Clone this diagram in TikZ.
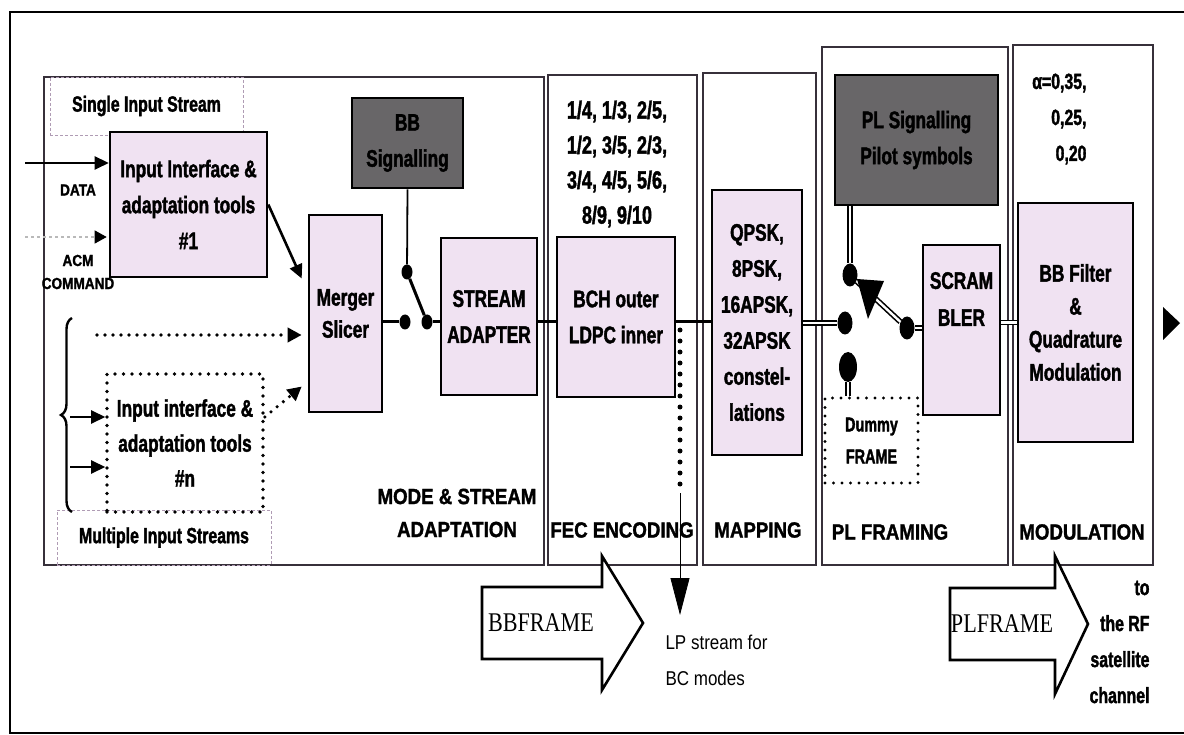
\documentclass[tikz,border=0pt]{standalone}
\usepackage{fontspec}
\setmainfont{Liberation Sans}
\newfontfamily\condfont{Liberation Sans}[FakeStretch=0.72, BoldFeatures={FakeBold=1.6}]
\newfontfamily\semicond{Liberation Sans}[FakeStretch=0.85, BoldFeatures={FakeBold=1.4}]
\newfontfamily\serffont{Liberation Serif}[FakeStretch=0.82]
\usepackage{tikz}
\usetikzlibrary{shapes,arrows.meta,positioning,decorations.pathreplacing}
\definecolor{boxpink}{RGB}{240,226,242}
\definecolor{siggray}{RGB}{104,102,104}
\definecolor{stageline}{RGB}{55,48,58}
\definecolor{tagline}{RGB}{175,155,180}
\definecolor{acmgray}{RGB}{185,185,185}

\begin{document}
\begin{tikzpicture}[x=1pt, y=-1pt,
    >=Stealth,
    block/.style={draw=black, line width=2.6pt, fill=boxpink, align=center, inner sep=0pt, font=\condfont\bfseries\fontsize{24}{36}\selectfont},
    sigbox/.style={block, fill=siggray},
    dotbox/.style={draw=black, line width=3.6pt, dash pattern=on 0pt off 8.5pt, line cap=round, align=center, inner sep=0pt, font=\condfont\bfseries\fontsize{24}{35}\selectfont},
    stage/.style={draw=stageline, line width=1.8pt},
    tag/.style={draw=tagline, densely dashed, line width=0.8pt, inner sep=0pt, font=\condfont\bfseries\fontsize{22}{26}\selectfont},
    stagelbl/.style={align=center, font=\semicond\bfseries\fontsize{22}{33}\selectfont},
    smalllbl/.style={align=center, font=\semicond\bfseries\fontsize{16}{23}\selectfont},
    contact/.style={ellipse, fill=black, inner sep=0pt, minimum width=11pt, minimum height=15pt},
    bigcontact/.style={contact, minimum width=15pt, minimum height=23pt},
    arrow/.style={-{Triangle[length=14pt,width=13pt]}, line width=2.6pt},
    dotarrow/.style={-{Triangle[length=14pt,width=14pt]}, line width=3.6pt, dash pattern=on 0pt off 8pt, line cap=round},
    wire/.style={line width=3pt},
    dbl/.style={draw=black, line width=1.6pt, double=white, double distance=2.4pt},
    bigarrow/.style={draw=black, line width=2.6pt, fill=white, line join=miter},
    framelbl/.style={font=\serffont\fontsize{27}{27}\selectfont}
]
    \useasboundingbox (0,0) rectangle (1184,735);
    \clip (0,0) rectangle (1184,735);
    \draw[line width=2.6pt] (10,12) rectangle (1200,733);

    % Processing stages
    \draw[stage] (44,77) rectangle (544,565);
    \draw[stage] (548,75) rectangle (697,565);
    \draw[stage] (703,73) rectangle (816,565);
    \draw[stage] (822,47) rectangle (1008,565);
    \draw[stage] (1013,45) rectangle (1153,565);

    % Input streams
    \node[tag, minimum width=193pt, minimum height=58pt] (single) at (146.5,106) {Single Input Stream};
    \node[tag, minimum width=214pt, minimum height=55pt] (multi) at (164,537.5) {Multiple Input Streams};
    \node[block, minimum width=157pt, minimum height=145pt] (in1) at (188.5,204.5) {Input Interface \&\\adaptation tools\\\#1};
    \node[dotbox, minimum width=156pt, minimum height=138pt] (inN) at (185,443) {Input interface \&\\adaptation tools\\\#n};
    \node[smalllbl] (datalbl) at (78,190) {DATA};
    \node[smalllbl] (acmlbl) at (78,272) {ACM\\COMMAND};

    % Mode and stream adaptation
    \node[block, minimum width=73pt, minimum height=197pt, font=\condfont\bfseries\fontsize{24}{32}\selectfont] (merger) at (345.5,313.5) {Merger\\Slicer};
    \node[sigbox, minimum width=111pt, minimum height=90pt] (bbsig) at (407.5,143) {BB\\Signalling};
    \node[block, minimum width=96pt, minimum height=157pt] (adapter) at (489,316.5) {STREAM\\ADAPTER};

    % FEC, mapping
    \node[block, minimum width=118pt, minimum height=160pt] (bch) at (616,317) {BCH outer\\LDPC inner};
    \node[align=center, font=\condfont\bfseries\fontsize{25}{35}\selectfont] (rates) at (617,164) {1/4, 1/3, 2/5,\\1/2, 3/5, 2/3,\\3/4, 4/5, 5/6,\\8/9, 9/10};
    \node[block, minimum width=90pt, minimum height=265pt] (mapper) at (757,322.5) {QPSK,\\8PSK,\\16APSK,\\32APSK\\constel-\\lations};

    % PL framing
    \node[sigbox, minimum width=163pt, minimum height=130pt] (plsig) at (916.5,140) {PL Signalling\\Pilot symbols};
    \node[block, minimum width=77pt, minimum height=170pt] (scram) at (961.5,330) {};
    \node[align=center, font=\condfont\bfseries\fontsize{24}{37}\selectfont] (scramtxt) at (961.5,299) {SCRAM\\BLER};
    \node[dotbox, minimum width=93pt, minimum height=85pt, line width=3.2pt, font=\condfont\bfseries\fontsize{20}{32}\selectfont] (dummy) at (871.5,440.5) {Dummy\\FRAME};

    % Modulation
    \node[block, minimum width=115pt, minimum height=239pt, font=\condfont\bfseries\fontsize{24}{33}\selectfont] (modbox) at (1075.5,322.5) {BB Filter\\\&\\Quadrature\\Modulation};
    \node[anchor=east, align=right, font=\condfont\bfseries\fontsize{22}{36}\selectfont] (rolloff) at (1090,119) {α=0,35,\\0,25,\\0,20};

    % Stage names
    \node[stagelbl] (lblmode) at (457,513) {MODE \& STREAM\\ADAPTATION};
    \node[stagelbl] (lblfec) at (622,530) {FEC ENCODING};
    \node[stagelbl] (lblmap) at (758,530) {MAPPING};
    \node[stagelbl] (lblpl) at (890,532) {PL FRAMING};
    \node[stagelbl] (lblmodu) at (1082,532) {MODULATION};

    % Input connections
    \coordinate (datain) at (25,163);
    \coordinate (acmin) at (25,237);
    \draw[arrow] (datain) -- (datain -| in1.west);
    \draw[draw=acmgray, line width=1.2pt, dashed, -{Triangle[length=12pt,width=13pt,black]}] (acmin) -- ([xshift=-2pt]acmin -| in1.west);
    \draw[arrow] (in1.east) -- ([xshift=-6pt, yshift=35pt]merger.west);
    \coordinate (multin) at (97,335);
    \draw[dotarrow] (multin) -- ([xshift=-6pt]multin -| merger.west);
    \draw[dotarrow] ([yshift=26pt]inN.east) -- ([xshift=-6pt, yshift=-73pt]merger.west);
    \draw[line width=2.4pt, decorate, decoration={brace, amplitude=11pt}] (72,512) -- (72,318);
    \coordinate (br1) at (70,417);
    \coordinate (br2) at (70,467);
    \draw[arrow] (br1) -- (br1 -| inN.west);
    \draw[arrow] (br2) -- (br2 -| inN.west);

    % BB switch
    \node[contact] (c1) at (405,322) {};
    \node[contact] (c2) at (427,322) {};
    \node[contact] (c3) at (407,272) {};
    \draw[wire] (merger.east |- c1) -- (c1);
    \draw[line width=1.8pt] (bbsig.south) -- (c3);
    \draw[wire] (c3) -- (c2);
    \draw[wire] (c2) -- (c2 -| adapter.west);
    \draw[wire] (adapter.east |- c2) -- (c2 -| bch.west);
    \draw[wire] (bch.east |- c2) -- (c2 -| mapper.west);

    % LP stream
    \coordinate (lptop) at (680,330);
    \coordinate (lpmid) at (680,493);
    \coordinate (lpbot) at (680,615);
    \draw[line width=5pt, dash pattern=on 0pt off 11pt, line cap=round] (lptop) -- (lpmid);
    \draw[line width=0.8pt, -{Triangle[length=37pt,width=19pt]}] (lpmid) -- (lpbot);
    \node[anchor=west, align=left, font=\semicond\fontsize{20}{36}\selectfont] (lplbl) at (662,660) {LP stream for\\BC modes};

    % PL switch
    \node[bigcontact] (c4) at (845,323) {};
    \node[bigcontact] (c5) at (850,275) {};
    \node[bigcontact] (c6) at (907,328) {};
    \node[contact, minimum width=18pt, minimum height=30pt] (c7) at (848,367) {};
    \draw[dbl] (mapper.east |- c4) -- (c4);
    \draw[dbl] (c5 |- plsig.south) -- (c5);
    \draw[dbl] (c5) -- (c6);
    \fill (857,279) -- (884,281) -- (868,319) -- cycle;
    \draw[dbl] (c6) -- (c6 -| scram.west);
    \draw[dbl] (c7) -- (c7 |- dummy.north);
    \draw[dbl] (modbox.west -| scram.east) -- (modbox.west);
    \fill (1163,307) -- (1180,323) -- (1163,340) -- cycle;

    % Frame arrows
    \draw[bigarrow] (482,587) -- (602,587) -- (602,556) -- (643,623) -- (602,690) -- (602,659) -- (482,659) -- cycle;
    \node[framelbl] (bbframe) at (541,623) {BBFRAME};
    \draw[bigarrow] (950,588) -- (1055,588) -- (1055,556) -- (1088,624) -- (1055,694) -- (1055,660) -- (950,660) -- cycle;
    \node[framelbl] (plframe) at (1002,624) {PLFRAME};
    \node[anchor=east, align=right, font=\condfont\bfseries\fontsize{22}{36}\selectfont] (rflbl) at (1153,642) {to\\the RF\\satellite\\channel};

\end{tikzpicture}
\end{document}
